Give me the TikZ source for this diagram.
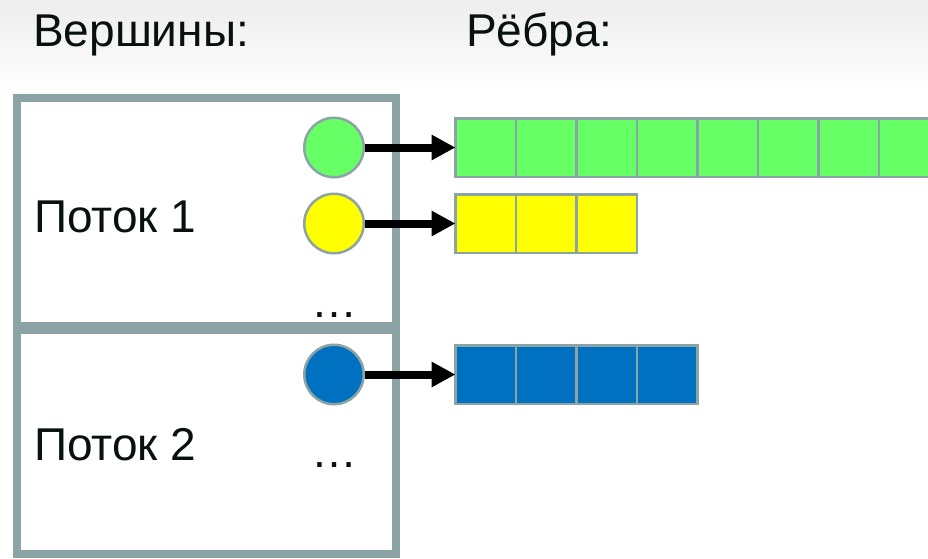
\documentclass[tikz,border=0pt]{standalone}
\usepackage{fontspec}
\setmainfont{Liberation Sans}
\usepackage{tikz}
\usetikzlibrary{positioning}
\usetikzlibrary{arrows.meta}
\definecolor{framegray}{RGB}{140,164,166}
\definecolor{edgegreen}{RGB}{102,255,102}
\definecolor{edgeyellow}{RGB}{255,255,0}
\definecolor{edgeblue}{RGB}{0,112,192}
\definecolor{textdark}{RGB}{8,16,16}

\begin{document}
\begin{tikzpicture}[x=1pt, y=-1pt,
        thread/.style={draw=framegray, line width=8pt, inner sep=0pt, outer sep=0pt},
        vertex/.style={circle, draw=framegray, line width=2.5pt, minimum size=59.5pt, inner sep=0pt},
        cell/.style={draw=framegray, line width=2.5pt, minimum width=60.5pt, minimum height=58.5pt, inner sep=0pt, outer sep=0pt},
        caption/.style={font=\fontsize{46}{52}\selectfont, text=textdark, inner sep=0pt, anchor=base west},
        pointer/.style={-{Triangle[length=24pt, width=24pt]}, line width=8pt}]
            \useasboundingbox (0,0) rectangle (928,558);
            \clip (0,0) rectangle (928,558);
            \fill[top color=black!7, bottom color=white] (0,0) rectangle (928,92);

            % headers
            \node[caption] (vert_label) at (33,46) {Вершины:};
            \node[caption] (edge_label) at (466,46) {Рёбра:};

            % threads
            \node[thread, minimum width=379pt, minimum height=228pt] (thread_1) at (206.5,212) {};
            \node[thread, minimum width=379pt, minimum height=224pt] (thread_2) at (206.5,442) {};
            \node[caption] (thread_1_label) at (34,232) {Поток 1};
            \node[caption] (thread_2_label) at (34,460) {Поток 2};
            \node[caption] (dots_1) at (311,317) {…};
            \node[caption] (dots_2) at (311,467) {…};

            % vertices
            \node[vertex, fill=edgegreen] (v_1) at (334,147.5) {};
            \node[vertex, fill=edgeyellow] (v_2) at (334,223.5) {};
            \node[vertex, fill=edgeblue] (v_3) at (334,374.5) {};

            % edge lists
            \node[cell, fill=edgegreen] (e_1_1) at (485.75,147.5) {};
            \foreach \i [remember=\i as \j (initially 1)] in {2,...,8}
                \node[cell, fill=edgegreen, right = 0pt of e_1_\j] (e_1_\i) {};
            \node[cell, fill=edgeyellow] (e_2_1) at (485.75,223.5) {};
            \foreach \i [remember=\i as \j (initially 1)] in {2,3}
                \node[cell, fill=edgeyellow, right = 0pt of e_2_\j] (e_2_\i) {};
            \node[cell, fill=edgeblue] (e_3_1) at (485.75,374.5) {};
            \foreach \i [remember=\i as \j (initially 1)] in {2,...,4}
                \node[cell, fill=edgeblue, right = 0pt of e_3_\j] (e_3_\i) {};

            \draw[pointer] (v_1) -- (e_1_1);
            \draw[pointer] (v_2) -- (e_2_1);
            \draw[pointer] (v_3) -- (e_3_1);
        \end{tikzpicture}
\end{document}
